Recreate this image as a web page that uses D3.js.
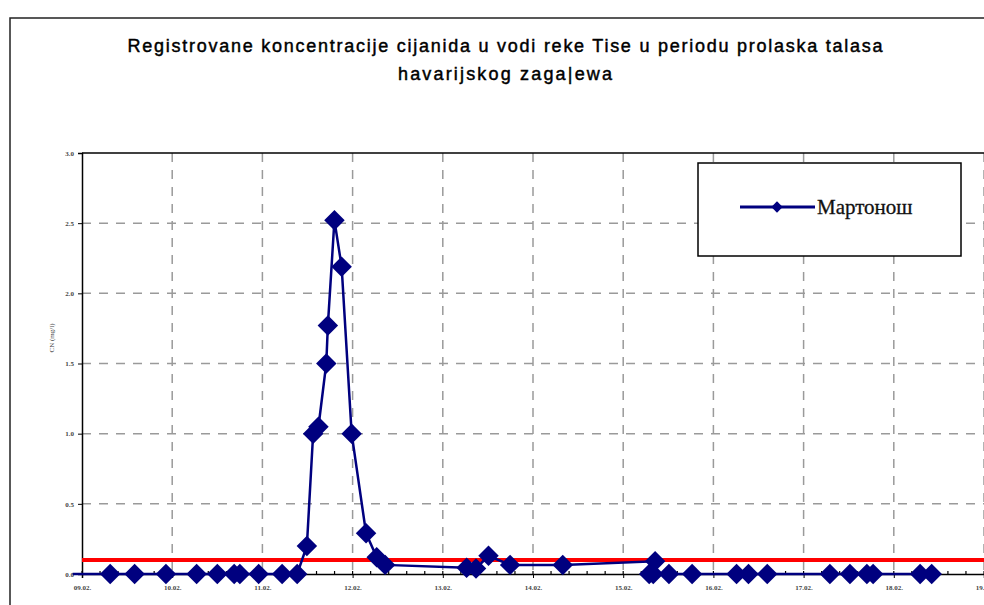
<!DOCTYPE html>
<html lang="sr">
<head>
  <meta charset="utf-8"/>
  <title>Cijanid - Tisa</title>
  <script src="https://d3js.org/d3.v7.min.js"></script>
  <style>
    html, body { margin: 0; padding: 0; background: #fff; }
    svg { display: block; }
  </style>
</head>
<body>
<svg id="chart" width="984" height="605"></svg>
<script>
  // measurement times (dd.mm. HH:MM) and CN concentrations, mg/l
  const times = [
    "08.02. 21:30", "09.02. 07:30", "09.02. 14:00", "09.02. 22:20", "10.02. 06:30",
    "10.02. 12:00", "10.02. 16:30", "10.02. 18:00", "10.02. 23:00", "11.02. 05:15",
    "11.02. 09:15", "11.02. 11:50", "11.02. 13:30", "11.02. 14:55", "11.02. 17:00",
    "11.02. 17:25", "11.02. 19:10", "11.02. 21:05", "11.02. 23:45", "12.02. 03:35",
    "12.02. 06:25", "12.02. 08:40", "13.02. 06:20", "13.02. 08:50", "13.02. 12:10",
    "13.02. 17:55", "14.02. 07:55", "15.02. 08:30", "15.02. 06:55", "15.02. 08:00",
    "15.02. 12:10", "15.02. 18:20", "16.02. 06:10", "16.02. 09:20", "16.02. 14:20",
    "17.02. 07:00", "17.02. 12:20", "17.02. 16:50", "17.02. 18:30", "18.02. 07:00",
    "18.02. 10:05"
  ];
  const values = [
    0, 0, 0, 0, 0,
    0, 0, 0, 0, 0,
    0, 0.2, 1.0, 1.05, 1.5,
    1.77, 2.52, 2.19, 1.0, 0.29,
    0.12, 0.065, 0.045, 0.04, 0.13,
    0.065, 0.064, 0.09, 0, 0,
    0, 0, 0, 0, 0,
    0, 0, 0, 0, 0,
    0
  ];
  const yTicks = [0, 0.5, 1.0, 1.5, 2.0, 2.5, 3.0];
  const limit = 0.1; // MDK
  const seriesName = "Мартонош";
  const titleLines = [
    "Registrovane koncentracije cijanida u vodi reke Tise u periodu prolaska talasa",
    "havarijskog zaga|ewa"
  ];

  const parse = d3.timeParse("%d.%m. %H:%M");
  const data = times.map((t, i) => ({ t: parse(t), v: values[i] }));
  const start = parse("09.02. 00:00"), end = parse("19.02. 00:00");

  const svg = d3.select("#chart");
  const navy = "#00007f";
  const pLeft = 82, pRight = 984, pTop = 153, pBottom = 574;

  const x = d3.scaleTime().domain([start, end]).range([pLeft, pRight]);
  const y = d3.scaleLinear().domain([0, 3]).range([pBottom, pTop]);

  // outer frame
  svg.append("rect")
    .attr("x", 10).attr("y", 18).attr("width", 1000).attr("height", 700)
    .attr("fill", "none").attr("stroke", "#222").attr("stroke-width", 1.5);

  // title
  const tw = [755, 214];
  titleLines.forEach((s, i) => {
    svg.append("text")
      .attr("x", 505).attr("y", 52 + i * 28)
      .attr("text-anchor", "middle")
      .attr("font-family", "Liberation Sans, Arial, sans-serif")
      .attr("font-size", 18)
      .attr("fill", "#000").attr("stroke", "#000").attr("stroke-width", 0.45)
      .attr("textLength", tw[i]).attr("lengthAdjust", "spacing")
      .text(s);
  });

  // grid
  const days = d3.timeDay.range(start, d3.timeDay.offset(end, 1));
  svg.append("g").selectAll("line")
    .data(days.slice(1))
    .join("line")
    .attr("x1", d => x(d)).attr("x2", d => x(d))
    .attr("y1", pTop).attr("y2", pBottom)
    .attr("stroke", "#9a9a9a").attr("stroke-width", 1.5)
    .attr("stroke-dasharray", "9,8");
  svg.append("g").selectAll("line")
    .data(yTicks.slice(1, -1))
    .join("line")
    .attr("x1", pLeft).attr("x2", pRight)
    .attr("y1", d => y(d)).attr("y2", d => y(d))
    .attr("stroke", "#9a9a9a").attr("stroke-width", 1.5)
    .attr("stroke-dasharray", "9,8");

  // plot top border
  svg.append("line")
    .attr("x1", pLeft).attr("x2", pRight).attr("y1", pTop).attr("y2", pTop)
    .attr("stroke", "#000").attr("stroke-width", 1.5);

  // y axis
  const yAxis = svg.append("g")
    .attr("transform", `translate(${pLeft},0)`)
    .call(d3.axisLeft(y).tickValues(yTicks).tickFormat(d3.format(".1f")).tickSize(4).tickPadding(4));
  yAxis.select(".domain").attr("stroke", "#000").attr("stroke-width", 1.5);
  yAxis.selectAll("text")
    .attr("font-family", "Liberation Serif, serif").attr("font-size", 7)
    .attr("font-weight", "bold").attr("fill", "#444");

  svg.append("text")
    .attr("transform", `translate(54,338) rotate(-90)`)
    .attr("text-anchor", "middle")
    .attr("font-family", "Liberation Serif, serif").attr("font-size", 7)
    .attr("fill", "#444")
    .text("CN (mg/l)");

  // x axis: minor ticks every 0.2 day
  const minor = d3.range(0, 51).map(i => d3.timeMinute.offset(start, i * 288));
  svg.append("g").selectAll("line")
    .data(minor)
    .join("line")
    .attr("x1", d => x(d)).attr("x2", d => x(d))
    .attr("y1", pBottom - 3).attr("y2", pBottom)
    .attr("stroke", "#000").attr("stroke-width", 1.2);

  const xAxis = svg.append("g")
    .attr("transform", `translate(0,${pBottom})`)
    .call(d3.axisBottom(x).tickValues(days).tickFormat(d3.timeFormat("%d.%m.")).tickSize(4).tickPadding(7));
  xAxis.select(".domain").attr("stroke", "#000").attr("stroke-width", 1.5);
  xAxis.selectAll("text")
    .attr("font-family", "Liberation Serif, serif").attr("font-size", 7)
    .attr("font-weight", "bold").attr("fill", "#444");

  // limit line
  svg.append("line")
    .attr("x1", pLeft).attr("x2", pRight)
    .attr("y1", y(limit)).attr("y2", y(limit))
    .attr("stroke", "#ff0000").attr("stroke-width", 4);

  // series
  svg.append("path")
    .datum(data)
    .attr("d", d3.line().x(d => x(d.t)).y(d => y(d.v)))
    .attr("fill", "none").attr("stroke", navy).attr("stroke-width", 2.5);

  const diamond = d3.symbol().type(d3.symbolSquare).size(210);
  svg.append("g").selectAll("path")
    .data(data.filter(d => d.t >= start))
    .join("path")
    .attr("d", diamond)
    .attr("transform", d => `translate(${x(d.t)},${y(d.v)}) rotate(45)`)
    .attr("fill", navy);

  // legend
  const lg = svg.append("g");
  lg.append("rect")
    .attr("x", 698).attr("y", 163).attr("width", 263).attr("height", 93)
    .attr("fill", "#fff").attr("stroke", "#000").attr("stroke-width", 1.5);
  lg.append("line")
    .attr("x1", 740).attr("x2", 815).attr("y1", 207).attr("y2", 207)
    .attr("stroke", navy).attr("stroke-width", 3);
  lg.append("path")
    .attr("d", d3.symbol().type(d3.symbolSquare).size(64))
    .attr("transform", "translate(777,207) rotate(45)")
    .attr("fill", navy);
  lg.append("text")
    .attr("x", 817).attr("y", 214)
    .attr("font-family", "Liberation Serif, Times New Roman, serif")
    .attr("font-size", 21).attr("fill", "#111").attr("stroke", "#111").attr("stroke-width", 0.3)
    .text(seriesName);
</script>
</body>
</html>
